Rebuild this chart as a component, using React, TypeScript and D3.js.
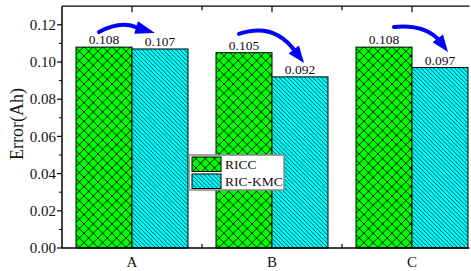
import React from "react";
import * as d3 from "d3";

const categories = ["A", "B", "C"];
const seriesNames = ["RICC", "RIC-KMC"];
const ricc = [0.108, 0.105, 0.108];
const ricKmc = [0.107, 0.092, 0.097];
const yTicks = [0, 0.02, 0.04, 0.06, 0.08, 0.1, 0.12];
// annotation arrows in data units: [start, control, shaftEnd, tip]
const arrows: [number, number][][] = [
  [[-0.236, 0.1161], [-0.079, 0.1226], [0.043, 0.1183], [0.164, 0.1156]],
  [[0.764, 0.1151], [1.014, 0.1215], [1.164, 0.1059], [1.229, 0.0995]],
  [[1.871, 0.1188], [2.086, 0.1204], [2.193, 0.1118], [2.257, 0.1054]],
];

const W = 471, H = 271;
const FONT = "'Liberation Serif', 'Times New Roman', serif";

export default function App() {
  const x = d3.scaleLinear().domain([-0.5, 2.41]).range([62, 469.4]);
  const y = d3.scaleLinear().domain([0, 0.13]).range([248, 6.2]);
  const bw = 0.4;
  const [x0, x1] = x.range();
  const [yb, yt] = y.range();
  const minorY = d3.range(0.01, 0.13, 0.02);
  const topMajor = [0, 1, 2];
  const topMinor = [0.5, 1.5];
  const fmt = d3.format(".2f");
  const fmt3 = d3.format(".3f");

  const arrowEls = arrows.map((a, i) => {
    const p = a.map(([dx, dy]) => [x(dx), y(dy)]);
    const path = d3.path();
    path.moveTo(p[0][0], p[0][1]);
    path.quadraticCurveTo(p[1][0], p[1][1], p[2][0], p[2][1]);
    const dxv = p[3][0] - p[2][0], dyv = p[3][1] - p[2][1];
    const len = Math.hypot(dxv, dyv);
    const nx = -dyv / len, ny = dxv / len;
    const hw = 6.5;
    const base = [p[2][0] - (dxv / len) * 2, p[2][1] - (dyv / len) * 2];
    const head = `M${base[0] + nx * hw},${base[1] + ny * hw}L${p[3][0]},${p[3][1]}L${base[0] - nx * hw},${base[1] - ny * hw}Z`;
    return (
      <g key={i}>
        <path d={path.toString()} fill="none" stroke="#0000ff" strokeWidth={4} strokeLinecap="round" />
        <path d={head} fill="#0000ff" />
      </g>
    );
  });

  return (
    <svg width={W} height={H} style={{ position: "absolute", left: 0, top: 0 }} fontFamily={FONT}>
      <defs>
        <pattern id="cross" patternUnits="userSpaceOnUse" width={9.33} height={9.33}>
          <rect width={9.33} height={9.33} fill="#00ff00" />
          <path d="M0,0L9.33,9.33M9.33,0L0,9.33" stroke="#000" strokeWidth={0.9} />
        </pattern>
        <pattern id="diag" patternUnits="userSpaceOnUse" width={4.2} height={4.2}>
          <rect width={4.2} height={4.2} fill="#00ffff" />
          <path d="M0,0L4.2,4.2M-1,3.2L1,5.2M3.2,-1L5.2,1" stroke="#000" strokeWidth={0.7} />
        </pattern>
      </defs>
      <rect width={W} height={H} fill="#fff" />
      {/* bars */}
      {categories.map((c, i) => (
        <g key={c}>
          <rect x={x(i - bw)} y={y(ricc[i])} width={x(i) - x(i - bw)} height={yb - y(ricc[i])} fill="url(#cross)" stroke="#000" strokeWidth={1} />
          <rect x={x(i)} y={y(ricKmc[i])} width={x(i + bw) - x(i)} height={yb - y(ricKmc[i])} fill="url(#diag)" stroke="#000" strokeWidth={1} />
          <text x={x(i - bw / 2)} y={y(ricc[i]) - 3} textAnchor="middle" fontSize={13.5} fill="#111">{fmt3(ricc[i])}</text>
          <text x={x(i + bw / 2)} y={y(ricKmc[i]) - 3} textAnchor="middle" fontSize={13.5} fill="#111">{fmt3(ricKmc[i])}</text>
          <text x={x(i)} y={267} textAnchor="middle" fontSize={15} fill="#111">{c}</text>
        </g>
      ))}
      {/* frame */}
      <line x1={x0} x2={x0} y1={yt} y2={yb} stroke="#000" strokeWidth={1.5} />
      <line x1={x0} x2={x1} y1={yb} y2={yb} stroke="#000" strokeWidth={1.5} />
      <line x1={x0} x2={x1} y1={yt} y2={yt} stroke="#000" strokeWidth={1.2} />
      {/* top ticks */}
      {topMajor.map((t) => (
        <line key={"tm" + t} x1={x(t)} x2={x(t)} y1={yt} y2={yt + 6} stroke="#000" strokeWidth={1.2} />
      ))}
      {topMinor.map((t) => (
        <g key={"tn" + t}>
          <line x1={x(t)} x2={x(t)} y1={yt} y2={yt + 4} stroke="#000" strokeWidth={1.2} />
          <line x1={x(t)} x2={x(t)} y1={yb} y2={yb - 4} stroke="#000" strokeWidth={1.2} />
        </g>
      ))}
      {/* y ticks */}
      {yTicks.map((t) => (
        <g key={t}>
          <line x1={x0 - 5} x2={x0} y1={y(t)} y2={y(t)} stroke="#000" strokeWidth={1.2} />
          <text x={56} y={y(t)} dy="0.35em" textAnchor="end" fontSize={15} fill="#111">{fmt(t)}</text>
        </g>
      ))}
      {minorY.map((t) => (
        <line key={"m" + t} x1={x0 - 3} x2={x0} y1={y(t)} y2={y(t)} stroke="#000" strokeWidth={1} />
      ))}
      <text transform={`translate(23,124) rotate(-90)`} textAnchor="middle" fontSize={18} fill="#111">Error(Ah)</text>
      {arrowEls}
      {/* legend */}
      <g>
        <rect x={189} y={155} width={95} height={35} fill="#fff" stroke="#888" strokeWidth={1.5} />
        <rect x={192} y={157} width={29} height={14.5} fill="url(#cross)" stroke="#000" strokeWidth={1} />
        <rect x={192} y={174} width={29} height={14.5} fill="url(#diag)" stroke="#000" strokeWidth={1} />
        <text x={225} y={169} fontSize={13.5} fill="#111">{seriesNames[0]}</text>
        <text x={225} y={186} fontSize={13.5} fill="#111">{seriesNames[1]}</text>
      </g>
    </svg>
  );
}
